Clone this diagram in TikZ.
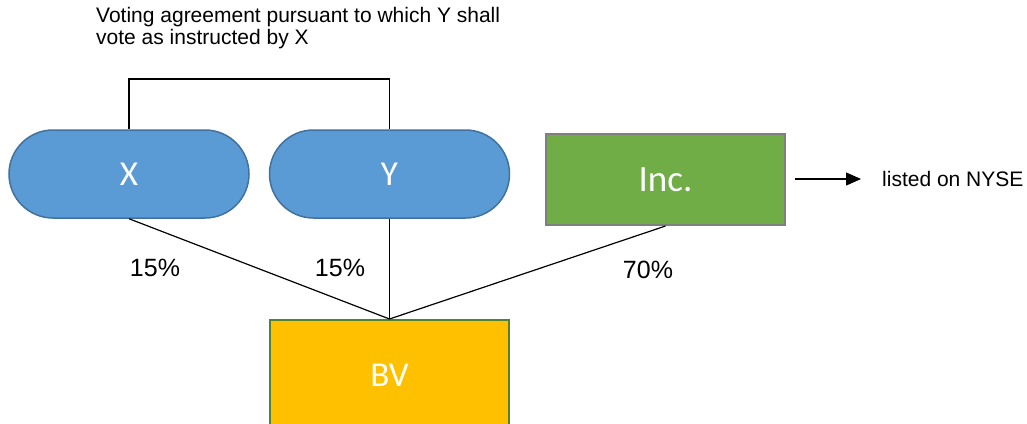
\documentclass[tikz,border=0pt]{standalone}
\usepackage{fontspec}
\setmainfont{Liberation Sans}
\newfontfamily\boxfont{Carlito}
\usetikzlibrary{arrows.meta}
\definecolor{pillblue}{HTML}{5B9BD5}
\definecolor{pillborder}{HTML}{41719C}
\definecolor{incgreen}{HTML}{70AD47}
\definecolor{incborder}{HTML}{7F7F7F}
\definecolor{bvgold}{HTML}{FFC000}
\definecolor{bvborder}{HTML}{548235}
\tikzset{
  pill/.style={draw=pillborder, fill=pillblue, line width=1.5pt, rounded corners=44pt,
    minimum width=240pt, minimum height=88pt, inner sep=0pt, text=white, font=\boxfont\fontsize{35}{40}\selectfont},
  incbox/.style={draw=incborder, fill=incgreen, line width=2pt,
    minimum width=239pt, minimum height=91pt, inner sep=0pt, text=white, font=\boxfont\fontsize{37}{42}\selectfont},
  bvbox/.style={draw=bvborder, fill=bvgold, line width=2pt,
    minimum width=239pt, minimum height=130pt, inner sep=0pt, text=white, font=\boxfont\fontsize{35}{40}\selectfont},
  conn/.style={draw=black, line width=1.2pt},
  lbl/.style={font=\fontsize{21}{25}\selectfont, inner sep=0pt},
  pct/.style={font=\fontsize{25}{29}\selectfont, inner sep=0pt},
}
\begin{document}
\begin{tikzpicture}[x=1pt,y=-1pt]
\useasboundingbox (0,0) rectangle (1027,423);
\clip (0,0) rectangle (1027,423);
\node[lbl, anchor=north west, align=left] (agr) at (96,7) {Voting agreement pursuant to which Y shall\\[-3pt]vote as instructed by X};
\node[pill] (X) at (129,174) {X};
\node[pill] (Y) at (389.5,174) {Y};
\node[incbox] (Inc) at (665.5,179.5) {Inc.};
\node[bvbox] (BV) at (389.5,385) {};
\node[text=white, font=\boxfont\fontsize{35}{40}\selectfont] (bvt) at (389.5,375) {BV};
\coordinate (tl) at (129,79);
\draw[conn] (X.north) |- (tl) -| (Y.north);
\draw[conn] (X.south) -- (BV.north);
\draw[conn] (Y.south) -- (BV.north);
\draw[conn] (Inc.south) -- (BV.north);
\node[pct] (p1) at (155,268) {15\%};
\node[pct] (p2) at (340,268) {15\%};
\node[pct] (p3) at (648,270) {70\%};
\coordinate (a1) at (795,179);
\coordinate (a2) at (861,179);
\draw[conn, -{Triangle[length=15pt,width=13pt]}] (a1) -- (a2);
\node[lbl, anchor=west] (nyse) at (882,179) {listed on NYSE};
\end{tikzpicture}
\end{document}
